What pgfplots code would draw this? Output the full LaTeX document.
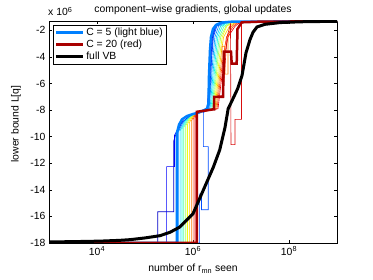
\documentclass[border=0pt]{standalone}
\usepackage{fontspec}
\setmainfont{Liberation Sans}
\usepackage{pgfplots}
\pgfplotsset{compat=1.18}
\definecolor{c0}{rgb}{0,0,0.98}
\definecolor{c1}{rgb}{0,0.26,1}
\definecolor{c2}{rgb}{0,0.54,1}
\definecolor{c3}{rgb}{0,0.82,1}
\definecolor{c4}{rgb}{0.1,1,0.9}
\definecolor{c5}{rgb}{0.38,1,0.62}
\definecolor{c6}{rgb}{0.66,1,0.34}
\definecolor{c7}{rgb}{0.94,1,0.06}
\definecolor{c8}{rgb}{1,0.78,0}
\definecolor{c9}{rgb}{1,0.5,0}
\definecolor{c10}{rgb}{1,0.22,0}
\definecolor{c11}{rgb}{0.94,0,0}
\definecolor{cA}{rgb}{0,0,0.78}
\definecolor{cC}{rgb}{0,0.3,1}
\definecolor{cD}{rgb}{0.85,0.05,0.05}
\definecolor{lightblue}{rgb}{0,0.5,1}
\definecolor{darkred}{rgb}{0.66,0,0}
\begin{document}
\fontsize{10.4}{12.5}\selectfont
\begin{tikzpicture}
\useasboundingbox (0,0) rectangle (373pt,280pt);
\begin{axis}[
  at={(49pt,37pt)}, anchor=south west,
  scale only axis, width=288pt, height=222pt,
  xmode=log, xmin=1e3, xmax=1e9, ymin=-18, ymax=-1.3,
  xtick={1e4,1e6,1e8},
  xticklabels={10\textsuperscript{4},10\textsuperscript{6},10\textsuperscript{8}},
  ytick={-18,-16,-14,-12,-10,-8,-6,-4,-2},
  xminorticks=false, yminorticks=false,
  /pgf/number format/assume math mode=true,
  tick align=inside, major tick length=3pt,
  axis line style={line width=0.6pt},
  every tick/.style={black, line width=0.6pt},
  title={component--wise gradients, global updates},
  every axis title/.style={at={(axis description cs:0.5,1)}, anchor=base, yshift=8pt, inner sep=0pt},
  xlabel={number of r\textsubscript{mn} seen},
  every axis x label/.style={at={(axis description cs:0.5,0)}, anchor=base, yshift=-29pt, inner sep=0pt},
  ylabel={lower bound L[q]},
  every axis y label/.style={at={(axis description cs:-0.1146,0.536)}, anchor=center, rotate=90, inner sep=0pt},
  legend style={at={(axis description cs:0,1)}, anchor=north west, xshift=3.7pt, yshift=-4pt,
    draw=black, line width=0.5pt, inner xsep=2pt, inner ysep=1.5pt, row sep=0pt,
    nodes={inner sep=1.4pt}},
  legend cell align=left,
  legend image code/.code={\draw[#1] (0pt,0pt) -- (27pt,0pt);},
  clip mode=individual,
]
% thin component lines (jet colours)
\addplot[forget plot, cA, line width=0.6pt] coordinates {(1e3,-18)(1.84e5,-18)(1.84e5,-15.65)(3.98e5,-15.65)(3.98e5,-10.3)(4.32e5,-9.9)(5.8e5,-8.95)(8.7e5,-8.45)(1.47e6,-8.15)(2.0e6,-7.9)(2.2e6,-6)(2.37e6,-4)(2.55e6,-2.5)(2.95e6,-1.7)(3.95e6,-1.45)(9.7e6,-1.35)(1e9,-1.32)};
\addplot[forget plot, c0, line width=0.6pt] coordinates {(1e3,-18)(2.83e5,-18)(2.83e5,-12.25)(4.12e5,-12.25)(4.12e5,-9.9)(5.6e5,-8.97)(8.58e5,-8.46)(1.47e6,-8.15)(1.96e6,-7.9)(2.15e6,-6)(2.32e6,-4)(2.49e6,-2.5)(2.87e6,-1.7)(3.83e6,-1.45)(9.53e6,-1.35)(1e9,-1.32)};
\addplot[forget plot, cC, line width=0.6pt] coordinates {(1e3,-18)(1.37e6,-18)(1.37e6,-14.3)(1.5e6,-14.3)(1.5e6,-15.5)(2.08e6,-15.5)(2.08e6,-10.75)(1.64e6,-10.75)(1.64e6,-8.2)(2.15e6,-7.9)(2.32e6,-6)(2.43e6,-4)(2.61e6,-2.5)(3.01e6,-1.7)(4.02e6,-1.45)(9.53e6,-1.35)(1e9,-1.32)};
\addplot[forget plot, c1, line width=0.6pt] coordinates {(1e3,-18)(4.51e5,-18)(4.51e5,-9.78)(5.99e5,-8.91)(8.91e5,-8.44)(1.47e6,-8.15)(2.05e6,-7.9)(2.27e6,-6)(2.46e6,-4)(2.67e6,-2.5)(3.13e6,-1.7)(4.14e6,-1.45)(9.95e6,-1.35)(1e9,-1.32)};
\addplot[forget plot, c2, line width=0.6pt] coordinates {(1e3,-18)(4.92e5,-18)(4.92e5,-9.66)(6.4e5,-8.86)(9.22e5,-8.42)(1.47e6,-8.15)(2.15e6,-7.9)(2.39e6,-6)(2.61e6,-4)(2.86e6,-2.5)(3.41e6,-1.7)(4.49e6,-1.45)(1.04e7,-1.35)(1e9,-1.32)};
\addplot[forget plot, c3, line width=0.6pt] coordinates {(1e3,-18)(5.39e5,-18)(5.39e5,-9.55)(6.85e5,-8.81)(9.53e5,-8.40)(1.47e6,-8.15)(2.26e6,-7.9)(2.52e6,-6)(2.78e6,-4)(3.07e6,-2.5)(3.74e6,-1.7)(4.85e6,-1.45)(1.08e7,-1.35)(1e9,-1.32)};
\addplot[forget plot, c4, line width=0.6pt] coordinates {(1e3,-18)(5.9e5,-18)(5.9e5,-9.43)(7.32e5,-8.75)(9.9e5,-8.38)(1.47e6,-8.15)(2.37e6,-7.9)(2.66e6,-6)(2.96e6,-4)(3.29e6,-2.5)(4.08e6,-1.7)(4.99e6,-1.45)(1.13e7,-1.35)(1e9,-1.32)};
\addplot[forget plot, c5, line width=0.6pt] coordinates {(1e3,-18)(6.43e5,-18)(6.43e5,-9.31)(7.83e5,-8.70)(1.02e6,-8.37)(1.47e6,-8.15)(2.49e6,-7.9)(2.8e6,-6)(3.15e6,-4)(3.53e6,-2.5)(4.45e6,-1.7)(5.68e6,-1.45)(1.19e7,-1.35)(1e9,-1.32)};
\addplot[forget plot, c6, line width=0.6pt] coordinates {(1e3,-18)(7.05e5,-18)(7.05e5,-9.19)(8.37e5,-8.65)(1.06e6,-8.35)(1.47e6,-8.15)(2.61e6,-7.9)(2.94e6,-6)(3.33e6,-4)(3.78e6,-2.5)(4.85e6,-1.7)(6.13e6,-1.45)(1.24e7,-1.35)(1e9,-1.32)};
\addplot[forget plot, c7, line width=0.6pt] coordinates {(1e3,-18)(7.68e5,-18)(7.68e5,-9.07)(8.91e5,-8.59)(1.10e6,-8.33)(1.47e6,-8.15)(2.74e6,-7.9)(3.10e6,-6)(3.55e6,-4)(4.06e6,-2.5)(5.04e6,-1.7)(6.31e6,-1.45)(1.30e7,-1.35)(1e9,-1.32)};
\addplot[forget plot, c8, line width=0.6pt] coordinates {(1e3,-18)(8.41e5,-18)(8.41e5,-8.95)(9.58e5,-8.54)(1.14e6,-8.31)(1.47e6,-8.15)(2.87e6,-7.9)(3.27e6,-6)(3.78e6,-4)(4.34e6,-2.5)(5.76e6,-1.7)(7.18e6,-1.45)(1.35e7,-1.35)(1e9,-1.32)};
\addplot[forget plot, c9, line width=0.6pt] coordinates {(1e3,-18)(9.22e5,-18)(9.22e5,-8.84)(1.02e6,-8.49)(1.18e6,-8.30)(1.47e6,-8.15)(3.01e6,-7.9)(3.45e6,-6)(4.02e6,-4)(4.02e6,-3.2)(4.64e6,-3.2)(4.64e6,-5.3)(5.36e6,-5.3)(5.36e6,-2.5)(6.31e6,-1.7)(7.75e6,-1.45)(1.41e7,-1.35)(1e9,-1.32)};
\addplot[forget plot, c10, line width=0.6pt] coordinates {(1e3,-18)(1.005e6,-18)(1.005e6,-8.72)(1.09e6,-8.43)(1.22e6,-8.28)(1.47e6,-8.15)(3.16e6,-7.9)(3.63e6,-6)(4.26e6,-4)(4.99e6,-2.5)(6.88e6,-1.7)(8.41e6,-1.45)(1.47e7,-1.35)(1e9,-1.32)};
\addplot[forget plot, c11, line width=0.6pt] coordinates {(1e3,-18)(1.10e6,-18)(1.10e6,-8.6)(1.17e6,-8.38)(1.27e6,-8.26)(1.47e6,-8.15)(3.32e6,-7.9)(3.83e6,-6)(4.53e6,-4)(5.36e6,-2.5)(7.5e6,-1.7)(9.09e6,-1.45)(1.54e7,-1.35)(1e9,-1.32)};
\addplot[forget plot, cD, line width=0.6pt] coordinates {(1e3,-18)(1.24e6,-18)(1.24e6,-8.1)(2.61e6,-7.9)(2.74e6,-7.0)(4.22e6,-6.9)(5.11e6,-2.5)(6.04e6,-1.55)(6.19e6,-10.6)(7.5e6,-10.6)(7.5e6,-8.7)(1.024e7,-8.7)(1.024e7,-1.45)(1.54e7,-1.36)(1e9,-1.32)};
% C = 5
\addplot[lightblue, line width=2.5pt] coordinates {(1e3,-18)(4.64e5,-18)(4.64e5,-9.7)(5.11e5,-9.1)(5.9e5,-8.7)(7.5e5,-8.45)(1e6,-8.3)(1.4e6,-8.15)(1.96e6,-7.9)(2.1e6,-7.5)(2.15e6,-5.5)(2.26e6,-3.5)(2.37e6,-2.5)(2.61e6,-1.9)(3.01e6,-1.6)(3.83e6,-1.42)(6.49e6,-1.35)(1e9,-1.32)};
\addlegendentry{C = 5 (light blue)}
% C = 20
\addplot[darkred, line width=2.5pt] coordinates {(1e3,-18)(1.21e6,-18)(1.21e6,-8.13)(2.61e6,-7.95)(2.74e6,-7.95)(2.74e6,-7.0)(4.22e6,-7.0)(4.42e6,-3.6)(6.19e6,-3.6)(6.4e6,-4.5)(8.13e6,-4.5)(8.45e6,-1.9)(1.034e7,-1.4)(2.49e7,-1.35)(1e9,-1.32)};
\addlegendentry{C = 20 (red)}
% full VB
\addplot[black, line width=3pt] coordinates {(1e3,-17.92)(3e3,-17.9)(1.155e4,-17.86)(3e4,-17.8)(4.87e4,-17.75)(1e5,-17.62)(2.05e5,-17.45)(3.3e5,-17.2)(5.3e5,-16.8)(1e6,-15.8)(1.65e6,-14.0)(2.65e6,-12.3)(3.6e6,-11.0)(4.65e6,-9.3)(5.4e6,-7.9)(6.3e6,-7.4)(8.5e6,-6.4)(1.05e7,-5.4)(1.27e7,-3.7)(1.54e7,-2.7)(1.78e7,-2.15)(2.15e7,-1.75)(3.16e7,-1.55)(6.5e7,-1.42)(1.7e8,-1.36)(1e9,-1.32)};
\addlegendentry{full VB}
\node[anchor=base west, inner sep=0pt] at (axis description cs:0,1) [yshift=5pt, xshift=-1pt] {x 10\textsuperscript{6}};
\end{axis}
\end{tikzpicture}
\end{document}
